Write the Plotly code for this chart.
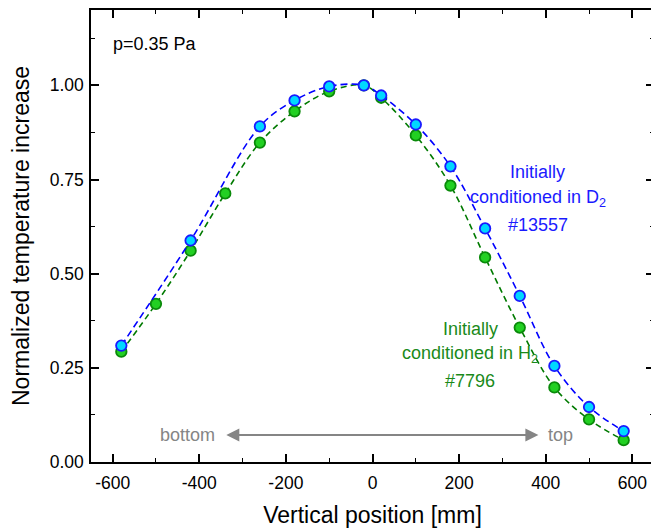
import plotly.graph_objects as go

# Data
x_d2 = [-580, -420, -260, -180, -100, -20, 20, 100, 180, 260, 340, 420, 500, 580]
y_d2 = [0.309, 0.588, 0.891, 0.960, 0.997, 1.000, 0.973, 0.896, 0.785, 0.620, 0.441, 0.255, 0.146, 0.082]

x_h2 = [-580, -500, -420, -340, -260, -180, -100, -20, 20, 100, 180, 260, 340, 420, 500, 580]
y_h2 = [0.293, 0.420, 0.561, 0.713, 0.848, 0.931, 0.984, 1.000, 0.967, 0.867, 0.734, 0.543, 0.357, 0.198, 0.113, 0.058]

x_ticks = [-600, -400, -200, 0, 200, 400, 600]
y_ticks = [0.00, 0.25, 0.50, 0.75, 1.00]

FONT = "Arial, Liberation Sans, sans-serif"

fig = go.Figure()

fig.add_trace(go.Scatter(
    x=x_h2, y=y_h2, mode="lines+markers",
    line=dict(color="#007a00", width=1.6, dash="6px,4px", shape="spline", smoothing=1),
    marker=dict(size=10.5, color="#22d022", line=dict(color="#0a8a0a", width=1.8)),
    showlegend=False,
))
fig.add_trace(go.Scatter(
    x=x_d2, y=y_d2, mode="lines+markers",
    line=dict(color="#0000ff", width=1.6, dash="7px,4px", shape="spline", smoothing=1),
    marker=dict(size=10.5, color="#00d8ff", line=dict(color="#1a1aff", width=1.8)),
    showlegend=False,
))

ann = []
ann.append(dict(x=-604, y=1.111, xref="x", yref="y", text="p=0.35 Pa", showarrow=False,
                xanchor="left", yanchor="middle", font=dict(family=FONT, size=18, color="black")))
blue = "#1a1aff"
for t, yy in [("Initially", 0.769), ("conditioned in D<sub>2</sub>", 0.700), ("#13557", 0.628)]:
    ann.append(dict(x=381, y=yy, xref="x", yref="y", text=t, showarrow=False,
                    xanchor="center", yanchor="middle", font=dict(family=FONT, size=18, color=blue)))
green = "#1a8a1a"
for t, yy in [("Initially", 0.354), ("conditioned in H<sub>2</sub>", 0.286), ("#7796", 0.215)]:
    ann.append(dict(x=226, y=yy, xref="x", yref="y", text=t, showarrow=False,
                    xanchor="center", yanchor="middle", font=dict(family=FONT, size=18, color=green)))
grey = "#858585"
ann.append(dict(x=383, y=0.072, ax=-341, ay=0.072, xref="x", yref="y", axref="x", ayref="y",
                text="", showarrow=True, arrowside="end+start", arrowhead=2, arrowsize=1.3,
                arrowwidth=2, arrowcolor=grey))
ann.append(dict(x=-427, y=0.072, xref="x", yref="y", text="bottom", showarrow=False,
                xanchor="center", yanchor="middle", font=dict(family=FONT, size=18, color=grey)))
ann.append(dict(x=434, y=0.072, xref="x", yref="y", text="top", showarrow=False,
                xanchor="center", yanchor="middle", font=dict(family=FONT, size=18, color=grey)))

# The page body has an 8px margin, so the figure is 8px smaller and margins shifted
fig.update_layout(
    width=651, height=520,
    margin=dict(l=83, r=5, t=2, b=66),
    paper_bgcolor="white", plot_bgcolor="white",
    font=dict(family=FONT, color="black"),
    annotations=ann,
)
fig.update_xaxes(
    range=[-650, 650], tickvals=x_ticks, ticktext=[str(v) for v in x_ticks],
    showline=True, linecolor="black", linewidth=1.5, mirror="ticks",
    ticks="inside", ticklen=8, tickwidth=1.5, tickcolor="black",
    minor=dict(ticks="inside", ticklen=4, tickwidth=1.2, dtick=100, tick0=0, tickcolor="black"),
    showgrid=False, zeroline=False, automargin=False, ticklabelstandoff=4,
    tickfont=dict(size=17.5, family=FONT, color="black"),
    title=dict(text="Vertical position [mm]", font=dict(size=23, family=FONT, color="black"), standoff=25),
)
fig.update_yaxes(
    range=[0, 1.2], tickvals=y_ticks, ticktext=["%.2f" % v for v in y_ticks],
    showline=True, linecolor="black", linewidth=1.5, mirror="ticks",
    ticks="inside", ticklen=8, tickwidth=1.5, tickcolor="black",
    minor=dict(ticks="inside", ticklen=4, tickwidth=1.2, dtick=0.125, tick0=0, tickcolor="black"),
    showgrid=False, zeroline=False, automargin=False, ticklabelstandoff=2,
    tickfont=dict(size=17.5, family=FONT, color="black"),
    title=dict(text="Normalized temperature increase", font=dict(size=23, family=FONT, color="black"), standoff=17),
)

fig.write_html("out.html")
